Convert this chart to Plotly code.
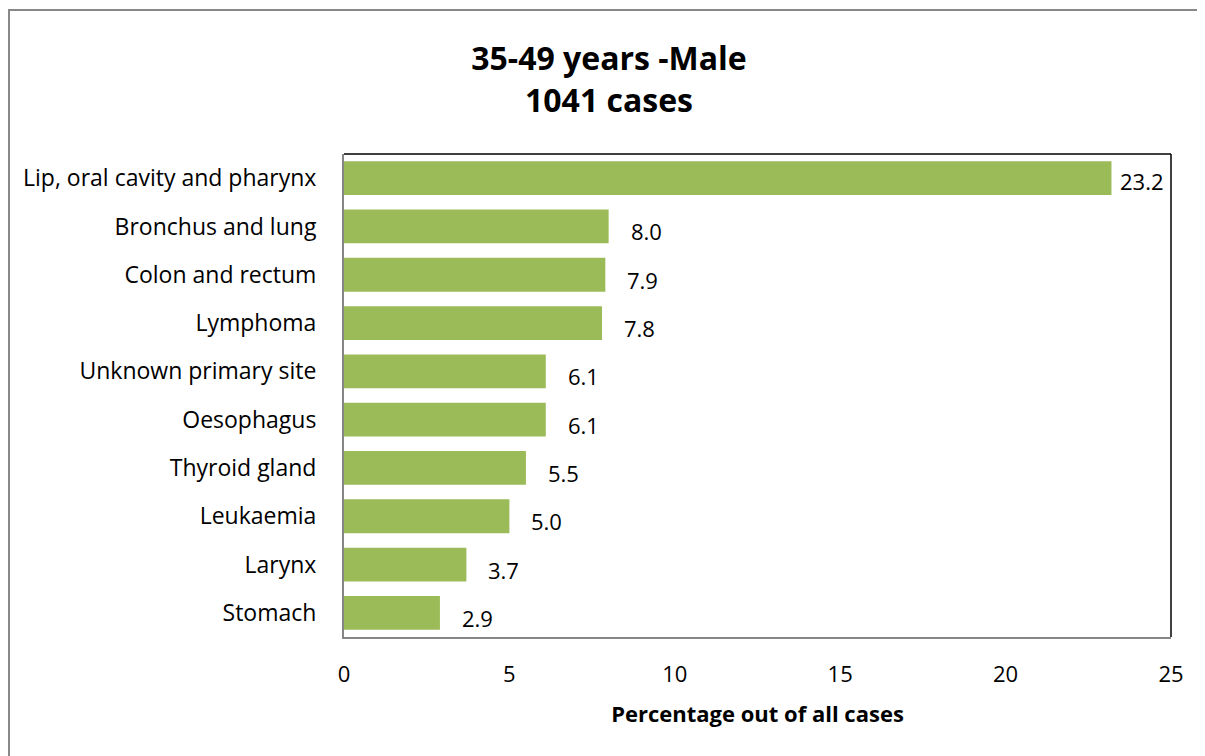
import plotly.graph_objects as go

categories = ["Lip, oral cavity and pharynx", "Bronchus and lung", "Colon and rectum",
              "Lymphoma", "Unknown primary site", "Oesophagus", "Thyroid gland",
              "Leukaemia", "Larynx", "Stomach"]
values = [23.2, 8.0, 7.9, 7.8, 6.1, 6.1, 5.5, 5.0, 3.7, 2.9]
tick_vals = [0, 5, 10, 15, 20, 25]

FONT = "'Open Sans', sans-serif"
# figure is placed by the page at an 8px body offset
W, H = 1197, 748
L, R, T, B = 336, 34, 146, 119
pw, ph = W - L - R, H - T - B

fig = go.Figure(go.Bar(
    x=values, y=categories, orientation="h",
    marker=dict(color="#9BBB59", line=dict(width=0)),
    hoverinfo="x+y",
))

for c, v in zip(categories, values):
    fig.add_annotation(x=v, y=c, text=f"{v:.1f}", showarrow=False,
                       xanchor="left", yanchor="middle",
                       xshift=20 if v < 20 else 7, yshift=-5 if v < 20 else -3,
                       font=dict(family=FONT, size=22, color="#000"))

# outer chart border
fig.add_shape(type="rect", xref="paper", yref="paper",
              x0=(1 - L) / pw, x1=(W + 20 - L) / pw,
              y0=-(B + 20) / ph, y1=(T + ph - 2) / ph,
              line=dict(color="#888888", width=2), layer="below")
# top and right plot borders (black)
fig.add_shape(type="line", xref="paper", yref="paper", x0=0, x1=1, y0=1, y1=1,
              line=dict(color="#000", width=1.5))
fig.add_shape(type="line", xref="paper", yref="paper", x0=1, x1=1, y0=0, y1=1,
              line=dict(color="#000", width=1.5))

fig.update_layout(
    width=W, height=H,
    margin=dict(l=L, r=R, t=T, b=B),
    paper_bgcolor="white", plot_bgcolor="white",
    bargap=0.3,
    showlegend=False,
    title=dict(text="<b>35-49 years -Male<br>1041 cases</b>",
               x=(609 - 8) / W, xanchor="center", y=1 - (70 - 8) / H, yanchor="middle",
               font=dict(family=FONT, size=32, color="#000")),
    xaxis=dict(range=[0, 25], tickvals=tick_vals, ticks="", showgrid=False,
               zeroline=False, showline=True, linecolor="#868686", linewidth=2,
               tickfont=dict(family=FONT, size=22, color="#000"), ticklabelstandoff=17,
               title=dict(text="<b>Percentage out of all cases</b>", standoff=19,
                          font=dict(family=FONT, size=22, color="#000"))),
    yaxis=dict(autorange="reversed", showgrid=False, zeroline=False, ticks="",
               showline=True, linecolor="#868686", linewidth=2,
               ticklabelstandoff=21,
               tickfont=dict(family=FONT, size=23, color="#000")),
)

fig.write_html("out.html")
